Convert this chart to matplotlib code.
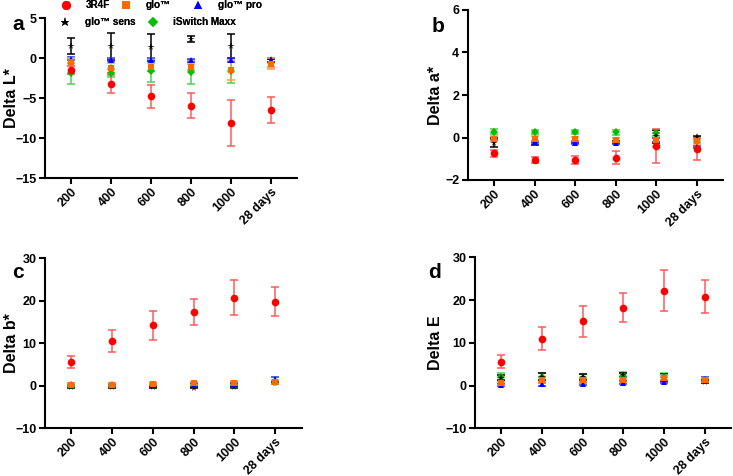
import numpy as np
import matplotlib
matplotlib.use("Agg")
import matplotlib.pyplot as plt
from matplotlib.lines import Line2D

plt.rcParams['font.family'] = ['Liberation Sans', 'DejaVu Sans']
plt.rcParams['font.weight'] = 'bold'

days = ["200", "400", "600", "800", "1000", "28 days"]
products = ["3R4F", "glo™", "glo™ pro", "glo™ sens", "iSwitch Maxx"]

# Delta L*
L_3r4f = [-1.5, -3.2, -4.75, -5.9, -8.1, -6.45]
L_3r4f_sd = [0.5, 1.1, 1.45, 1.6, 2.85, 1.65]
L_glo = [-0.4, -1.2, -1.05, -1.05, -1.45, -0.65]
L_glo_sd = [0.5, 0.6, 0.5, 0.4, 1.3, 0.7]
L_pro = [-0.05, -0.15, -0.15, -0.25, -0.2, -0.2]
L_pro_sd = [0.2, 0.2, 0.2, 0.2, 0.3, 0.2]
L_sens = [1.6, 1.5, 1.4, 2.4, 1.55, -0.25]
L_sens_sd = [1.0, 1.7, 1.7, 0.35, 1.55, 0.15]
L_isw = [-1.85, -1.8, -1.55, -1.75, -1.55, -0.6]
L_isw_sd = [1.3, 0.5, 1.4, 1.5, 1.5, 0.5]

# Delta a*
a_3r4f = [-0.75, -1.05, -1.07, -0.95, -0.38, -0.55]
a_3r4f_sd = [0.18, 0.15, 0.2, 0.3, 0.8, 0.52]
a_glo = [-0.05, -0.05, -0.07, -0.12, -0.12, -0.15]
a_glo_sd = [0.1, 0.1, 0.1, 0.1, 0.35, 0.15]
a_pro = [-0.05, -0.2, -0.25, -0.25, -0.1, -0.45]
a_pro_sd = [0.05, 0.05, 0.05, 0.05, 0.1, 0.05]
a_sens = [-0.25, -0.25, -0.2, -0.2, 0.05, 0.02]
a_sens_sd = [0.22, 0.08, 0.05, 0.05, 0.3, 0.05]
a_isw = [0.28, 0.27, 0.27, 0.25, 0.22, -0.1]
a_isw_sd = [0.1, 0.1, 0.1, 0.12, 0.15, 0.1]

# Delta b*
b_3r4f = [5.5, 10.5, 14.2, 17.3, 20.7, 19.8]
b_3r4f_sd = [1.4, 2.6, 3.45, 3.1, 4.1, 3.45]
b_glo = [0.2, 0.3, 0.4, 0.6, 0.7, 0.9]
b_glo_sd = [0.3, 0.3, 0.3, 0.3, 0.4, 0.4]
b_pro = [0.1, 0.2, 0.3, 0.3, 0.4, 1.6]
b_pro_sd = [0.3, 0.3, 0.3, 0.3, 0.3, 0.4]
b_sens = [-0.3, -0.3, -0.3, -0.4, -0.3, 0.7]
b_sens_sd = [0.2, 0.2, 0.2, 0.2, 0.2, 0.3]
b_isw = [0.3, 0.3, 0.2, 0.2, 0.3, 0.8]
b_isw_sd = [0.4, 0.4, 0.4, 0.4, 0.4, 0.4]

# Delta E
E_3r4f = [5.6, 11.0, 15.0, 18.2, 22.2, 20.8]
E_3r4f_sd = [1.55, 2.75, 3.6, 3.4, 4.75, 3.8]
E_glo = [0.5, 1.3, 1.2, 1.3, 1.8, 1.3]
E_glo_sd = [0.4, 0.6, 0.6, 0.5, 0.6, 0.4]
E_pro = [0.15, 0.3, 0.4, 0.7, 0.9, 1.5]
E_pro_sd = [0.3, 0.3, 0.3, 0.3, 0.3, 0.5]
E_sens = [1.8, 2.1, 2.0, 2.4, 1.8, 0.9]
E_sens_sd = [0.6, 0.8, 0.8, 0.5, 0.8, 0.3]
E_isw = [2.0, 1.9, 1.8, 2.2, 2.0, 1.2]
E_isw_sd = [1.0, 1.1, 0.9, 0.9, 1.0, 0.4]

# marker, face colour, error bar colour, size
styles = {
    "3R4F": ("o", "#ff0000", "#ff5a5a", 5.5),
    "glo™": ("s", "#ff6a00", "#ff9a50", 5),
    "glo™ pro": ("^", "#0000ff", "#3030ff", 5),
    "glo™ sens": ("*", "#000000", "#000000", 5.5),
    "iSwitch Maxx": ("D", "#00c000", "#50d050", 4.5),
}
draw_order = ["iSwitch Maxx", "glo™ sens", "glo™ pro", "glo™", "3R4F"]

W, H = 733, 476

# letter, y label, axes rect (px: left, top, right, bottom), ylim, yticks, data, letter pos, ylabel right edge
panels = [
    ("a", "Delta L*", (45, 18.3, 297, 178.3), (-15, 5), [-15, -10, -5, 0, 5],
     {"3R4F": (L_3r4f, L_3r4f_sd), "glo™": (L_glo, L_glo_sd), "glo™ pro": (L_pro, L_pro_sd),
      "glo™ sens": (L_sens, L_sens_sd), "iSwitch Maxx": (L_isw, L_isw_sd)},
     (12, 25), 19),
    ("b", "Delta a*", (467.7, 10, 723, 180), (-2, 6), [-2, 0, 2, 4, 6],
     {"3R4F": (a_3r4f, a_3r4f_sd), "glo™": (a_glo, a_glo_sd), "glo™ pro": (a_pro, a_pro_sd),
      "glo™ sens": (a_sens, a_sens_sd), "iSwitch Maxx": (a_isw, a_isw_sd)},
     (432, 26), 443),
    ("c", "Delta b*", (45, 258.3, 301.7, 428.3), (-10, 30), [-10, 0, 10, 20, 30],
     {"3R4F": (b_3r4f, b_3r4f_sd), "glo™": (b_glo, b_glo_sd), "glo™ pro": (b_pro, b_pro_sd),
      "glo™ sens": (b_sens, b_sens_sd), "iSwitch Maxx": (b_isw, b_isw_sd)},
     (12, 272), 19),
    ("d", "Delta E", (475, 257.3, 731, 428.3), (-10, 30), [-10, 0, 10, 20, 30],
     {"3R4F": (E_3r4f, E_3r4f_sd), "glo™": (E_glo, E_glo_sd), "glo™ pro": (E_pro, E_pro_sd),
      "glo™ sens": (E_sens, E_sens_sd), "iSwitch Maxx": (E_isw, E_isw_sd)},
     (428, 273), 443),
]

fig = plt.figure(figsize=(W / 100, H / 100), dpi=100)
x = np.arange(len(days))

for letter, ylab, px, ylim, yticks, series, lpos, ylx in panels:
    l, t, r, b = px
    ax = fig.add_axes([l / W, 1 - b / H, (r - l) / W, (b - t) / H])
    for name in draw_order:
        vals, sd = series[name]
        mk, fc, ec, ms = styles[name]
        cont = ax.errorbar(x, vals, yerr=sd, fmt=mk, color=fc, ecolor=ec, markersize=ms,
                           elinewidth=1.1, capsize=2.6, capthick=1.1, zorder=3)
        cont[0].set_markeredgewidth(0)
    ax.set_xlim(-0.65, 5.65)
    ax.set_ylim(*ylim)
    ax.set_yticks(yticks)
    ax.set_xticks(x)
    ax.set_xticklabels(days, rotation=45, ha="right", rotation_mode="anchor")
    for s in ["top", "right"]:
        ax.spines[s].set_visible(False)
    for s in ["left", "bottom"]:
        ax.spines[s].set_linewidth(1.5)
    ax.tick_params(axis="both", width=1.5, length=4, labelsize=9, pad=2)
    ax.tick_params(axis="x", pad=1.5)
    for lab in ax.get_xticklabels() + ax.get_yticklabels():
        lab.set_fontweight("bold")
    ax.set_ylabel(ylab, fontsize=11.5, fontweight="bold")
    ax.yaxis.set_label_coords((ylx - l) / (r - l), 0.5)
    fig.text(lpos[0] / W, 1 - lpos[1] / H, letter, fontsize=15, fontweight="bold",
             ha="left", va="center")

# legend entries placed one by one: (name, marker x px, row y px)
legend_pos = [("3R4F", 66, 5), ("glo™", 126, 5), ("glo™ pro", 198, 5),
              ("glo™ sens", 65, 22), ("iSwitch Maxx", 153, 22)]
fs = 7.2
em = fs * 100 / 72
for name, mx, my in legend_pos:
    mk, fc, ec, ms = styles[name]
    h = Line2D([], [], marker=mk, color=fc, linestyle="none", markersize=ms + 1,
               markeredgewidth=0)
    leg = fig.legend([h], [name], loc="center left",
                     bbox_to_anchor=((mx - em / 2) / W, 1 - my / H), frameon=False,
                     fontsize=fs, handlelength=1, handletextpad=1.5,
                     borderpad=0, borderaxespad=0)
    fig.add_artist(leg)

fig.savefig("out.png", dpi=100)
